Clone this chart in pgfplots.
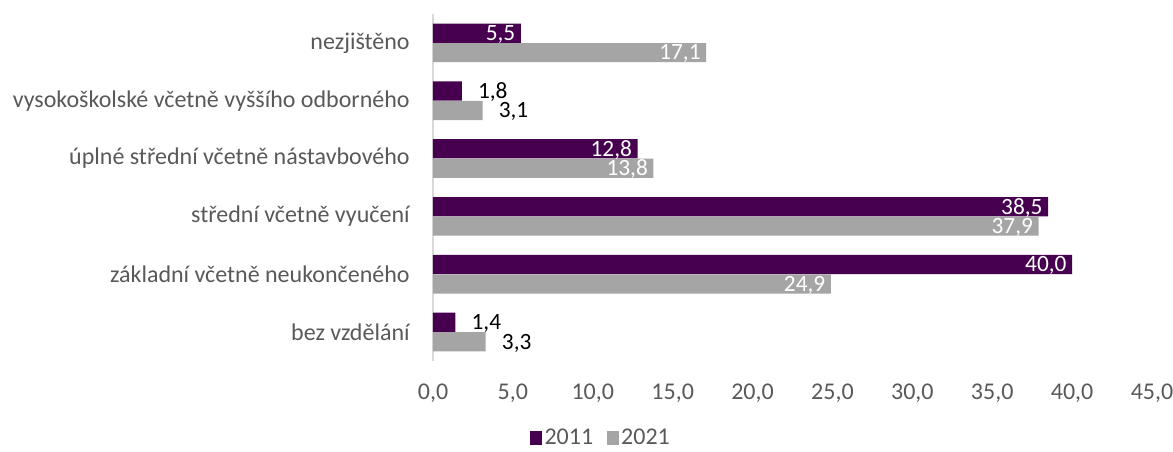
\documentclass[border=0pt]{standalone}
\usepackage{fontspec}
\setmainfont{Carlito}
\usepackage{pgfplots}
\pgfplotsset{compat=1.18}
\definecolor{fialova}{HTML}{470050}
\definecolor{seda}{HTML}{A5A5A5}
\definecolor{popis}{HTML}{595959}

\begin{document}
\begin{tikzpicture}[x=1pt,y=1pt]
\path[use as bounding box] (-324.75,-68.25) rectangle (555,270.75);
\begin{axis}[
  at={(0,0)}, anchor=south west, scale only axis,
  width=539.25pt, height=260.25pt,
  xmin=0, xmax=45, ymin=-0.5, ymax=5.5,
  xbar, bar width=14.4pt,
  axis x line*=bottom, axis y line*=left,
  x axis line style={draw=none},
  y axis line style={draw=black!15, line width=0.8pt},
  major tick length=0pt,
  xtick={0,5,...,45},
  ytick={0,...,5},
  yticklabels={bez vzdělání, základní včetně neukončeného, střední včetně vyučení,
    úplné střední včetně nástavbového, vysokoškolské včetně vyššího odborného, nezjištěno},
  tick label style={font=\fontsize{18}{20}\selectfont, text=popis},
  yticklabel style={xshift=-14pt},
  xticklabel style={yshift=-14pt},
  /pgf/number format/.cd, use comma, fixed, fixed zerofill, precision=1, assume math mode=true,
  /pgfplots/.cd,
  nodes near coords,
  every node near coord/.append style={font=\fontsize{17.5}{18}\selectfont,
    inner sep=0pt, text height=11pt, text depth=0pt},
  legend columns=2,
  legend style={at={(0.234,-0.222)}, anchor=center, draw=none, fill=none,
    font=\fontsize{18}{20}\selectfont, text=popis,
    /tikz/every even column/.append style={column sep=8pt}},
  legend image code/.code={\fill[#1] (0pt,-5pt) rectangle (9pt,5pt);},
]
% 2011
\addplot[fill=fialova, draw=none, bar shift=7.3pt,
  every node near coord/.append style={anchor=east, text=white, xshift=-4pt}]
  coordinates {(5.5,5) (12.8,3) (38.5,2) (40.0,1)};
\addlegendentry{2011}
% 2021
\addplot[fill=seda, draw=none, bar shift=-7.3pt,
  every node near coord/.append style={anchor=east, text=white, xshift=-4pt}]
  coordinates {(17.1,5) (13.8,3) (37.9,2) (24.9,1)};
\addlegendentry{2021}
% small values, labels outside
\addplot[fill=fialova, draw=none, bar shift=7.3pt, forget plot,
  every node near coord/.append style={anchor=west, text=black, xshift=12pt}]
  coordinates {(1.8,4) (1.4,0)};
\addplot[fill=seda, draw=none, bar shift=-7.3pt, forget plot,
  every node near coord/.append style={anchor=west, text=black, xshift=12pt}]
  coordinates {(3.1,4) (3.3,0)};
\end{axis}
\end{tikzpicture}
\end{document}
